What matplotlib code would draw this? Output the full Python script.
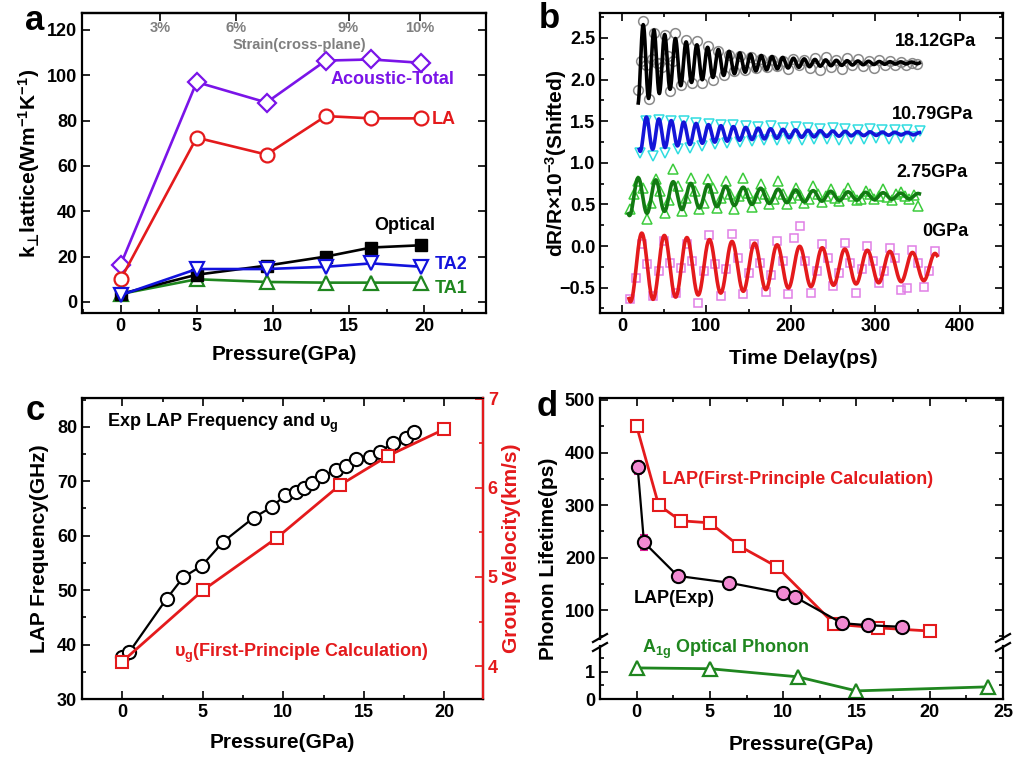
import numpy as np
import matplotlib
matplotlib.use("Agg")
import matplotlib.pyplot as plt
from matplotlib.lines import Line2D
from matplotlib.ticker import MultipleLocator, FixedLocator

# ---------------- panel a ----------------
a_pressure = [0, 5, 9.6, 13.5, 16.5, 19.8]
a_acoustic_total = [16.5, 97, 88, 106.5, 107, 105.5]
a_la = [10, 72.5, 65, 82, 81, 81]
a_optical = [3.5, 12, 16, 20, 24, 25]
a_ta2 = [3, 14.5, 14.5, 15.5, 17, 15.5]
a_ta1 = [3.5, 10, 8.8, 8.5, 8.5, 8.5]
a_strain_pos = [2.6, 7.6, 15.0, 19.7]
a_strain_labels = ["3%", "6%", "9%", "10%"]

# ---------------- panel b ----------------
b_labels = ["0GPa", "2.75GPa", "10.79GPa", "18.12GPa"]
# damped-cosine fit parameters
b_fit_offset = [-0.25, 0.60, 1.35, 2.20]
b_fit_amp = [0.405, 0.22, 0.20, 0.46]
b_fit_tau = [376, 170, 120, 85]
b_fit_period = [26.7, 20.7, 14.7, 12.7]
b_fit_peak_t = [23.5, 19.3, 29.0, 25.2]
b_fit_start = [8.3, 7.5, 20.5, 19.3]
b_fit_end = [373, 352, 352, 352]
# measured points: first delay, delay step, values
b_meas_t0 = [10.0, 8.95, 21.65, 18.85]
b_meas_dt = [6.675, 5.175, 7.35, 6.35]
b_meas_0gpa = [-0.64, -0.38, 0.02, -0.22, -0.60, -0.30, 0.06, -0.20, -0.57, -0.27,
               0.03, -0.18, -0.68, -0.30, 0.13, -0.22, -0.60, -0.28, 0.15, -0.15,
               -0.58, -0.32, 0.02, -0.20, -0.55, -0.35, 0.06, -0.18, -0.58, 0.10,
               0.24, -0.18, -0.56, -0.30, 0.02, -0.15, -0.48, -0.32, 0.04, -0.20,
               -0.57, -0.28, 0.00, -0.18, -0.45, -0.30, -0.02, -0.15, -0.53, -0.50,
               -0.05, -0.20, -0.49, -0.30, -0.06]
b_meas_275gpa = [0.45, 0.62, 0.78, 0.70, 0.32, 0.52, 0.80, 0.66, 0.40, 0.55,
                 0.93, 0.72, 0.42, 0.58, 0.82, 0.66, 0.45, 0.52, 0.80, 0.70,
                 0.46, 0.58, 0.78, 0.62, 0.45, 0.60, 0.82, 0.64, 0.47, 0.58,
                 0.74, 0.62, 0.50, 0.56, 0.78, 0.63, 0.50, 0.58, 0.70, 0.61,
                 0.52, 0.57, 0.72, 0.63, 0.53, 0.60, 0.68, 0.58, 0.54, 0.62,
                 0.70, 0.60, 0.55, 0.57, 0.66, 0.62, 0.56, 0.60, 0.68, 0.59,
                 0.55, 0.62, 0.65, 0.60, 0.57, 0.61, 0.48]
b_meas_1079gpa = [1.12, 1.50, 1.08, 1.52, 1.12, 1.50, 1.16, 1.50, 1.18, 1.48,
                  1.20, 1.47, 1.22, 1.46, 1.24, 1.45, 1.25, 1.44, 1.26, 1.43,
                  1.27, 1.44, 1.27, 1.42, 1.28, 1.43, 1.27, 1.42, 1.28, 1.41,
                  1.29, 1.42, 1.27, 1.41, 1.29, 1.40, 1.28, 1.41, 1.30, 1.39,
                  1.29, 1.40, 1.30, 1.39, 1.31, 1.38]
b_meas_1812gpa = [1.88, 2.70, 1.77, 2.56, 2.20, 2.54, 1.86, 2.56, 1.93, 2.48,
                  1.96, 2.46, 1.96, 2.40, 2.00, 2.34, 2.05, 2.30, 2.10, 2.28,
                  2.12, 2.27, 2.14, 2.25, 2.15, 2.24, 2.16, 2.22, 2.13, 2.25,
                  2.17, 2.23, 2.14, 2.26, 2.12, 2.27, 2.15, 2.24, 2.13, 2.26,
                  2.18, 2.25, 2.16, 2.22, 2.14, 2.23, 2.17, 2.22, 2.18, 2.21,
                  2.17, 2.20, 2.19]
b_extra_1812_t = [22, 28, 35, 41, 47, 54, 60]
b_extra_1812_v = [2.22, 2.18, 2.25, 2.20, 2.15, 2.28, 2.22]
b_text_t = [356, 325, 320, 323]
b_text_v = [0.18, 0.88, 1.575, 2.455]

# ---------------- panel c ----------------
c_exp_pressure = [0.0, 0.43, 2.75, 3.8, 4.95, 6.27, 8.15, 9.3, 10.1, 10.8, 11.3,
                  11.8, 12.4, 13.3, 13.9, 14.5, 15.4, 16.0, 16.8, 17.6, 18.1]
c_exp_freq = [37.8, 38.6, 48.4, 52.4, 54.5, 58.9, 63.3, 65.3, 67.4, 68.0, 68.7,
              69.7, 71.0, 72.1, 72.8, 74.1, 74.5, 75.4, 77.1, 77.9, 79.1]
c_calc_pressure = [0, 5, 9.6, 13.5, 16.5, 20]
c_calc_vg = [4.05, 4.85, 5.44, 6.03, 6.36, 6.66]

# ---------------- panel d ----------------
d_calc_pressure = [0, 1.5, 3.0, 5.0, 7.0, 9.6, 13.5, 16.5, 20]
d_calc_life = [450, 300, 270, 266, 222, 182, 73, 66, 60]
d_exp_pressure = [0.07, 0.5, 2.8, 6.3, 10.0, 10.8, 14.0, 15.8, 18.1]
d_exp_life = [372, 229, 165, 152, 132, 125, 75, 71, 68]
d_exp_err = [12, 14, 6, 6, 5, 5, 4, 4, 4]
d_opt_pressure = [0, 5, 11, 15, 24]
d_opt_life = [1.15, 1.12, 0.82, 0.3, 0.45]

W, H = 1017, 760

PURPLE = "#7a14e8"
RED = "#e41a1c"
BLUE = "#1212dc"
GREEN = "#1f861f"
GRAY = "#7f7f7f"


def box(left, top, right, bottom):
    return [left / W, 1 - bottom / H, (right - left) / W, (bottom - top) / H]


def style(ax, xminor=None, yminor=None, top=True, right=True):
    for s in ax.spines.values():
        s.set_linewidth(1.6)
    ax.tick_params(which="both", direction="in", width=1.2, labelsize=13,
                   top=top, right=right)
    ax.tick_params(which="major", length=5.5)
    ax.tick_params(which="minor", length=3)
    if xminor:
        ax.xaxis.set_minor_locator(MultipleLocator(xminor))
    if yminor:
        ax.yaxis.set_minor_locator(MultipleLocator(yminor))


def panel_a(fig):
    ax = fig.add_axes(box(82, 13, 486, 313))
    kw = dict(lw=1.9, ms=10, mew=1.6, mfc="white")
    ax.plot(a_pressure, a_acoustic_total, "-D", color=PURPLE, ms=9, lw=1.9, mew=1.6, mfc="white")
    ax.plot(a_pressure, a_la, "-o", color=RED, **kw)
    ax.plot(a_pressure, a_ta1, "-^", color=GREEN, **kw)
    ax.plot(a_pressure, a_optical, "-s", color="black", lw=1.9, ms=8)
    ax.plot(a_pressure, a_ta2, "-v", color=BLUE, **kw)
    ax.set_xlim(-2.55, 24.05)
    ax.set_ylim(-4.9, 127.5)
    ax.set_xticks([0, 5, 10, 15, 20])
    ax.set_yticks(range(0, 121, 20))
    style(ax, xminor=2.5, top=False)

    sec = ax.secondary_xaxis("top")
    sec.xaxis.set_major_locator(FixedLocator(a_strain_pos))
    sec.set_xticklabels(a_strain_labels, fontsize=10.5, color=GRAY, fontweight="bold")
    sec.tick_params(direction="in", length=5.5, width=1.2, pad=-16)
    sec.spines["top"].set_linewidth(1.6)
    ax.text(11.76, 113.5, "Strain(cross-plane)", ha="center", va="center",
            fontsize=10.5, color=GRAY, fontweight="bold")

    ax.text(13.8, 98, "Acoustic-Total", color=PURPLE, fontsize=13, va="center")
    ax.text(20.5, 80.5, "LA", color=RED, fontsize=13, va="center")
    ax.text(16.7, 33.5, "Optical", color="black", fontsize=13, va="center")
    ax.text(20.65, 16.3, "TA2", color=BLUE, fontsize=13, va="center")
    ax.text(20.65, 6.0, "TA1", color=GREEN, fontsize=13, va="center")

    ax.set_ylabel("k$_{\\mathsf{\u22a5}}$lattice(Wm$^{-1}$K$^{-1}$)", fontsize=15, va="center")
    ax.yaxis.set_label_coords(-0.131, 0.5)
    ax.set_xlabel("Pressure(GPa)", fontsize=15, va="center")
    ax.xaxis.set_label_coords(0.5, -0.14)


def panel_b(fig):
    ax = fig.add_axes(box(600, 13, 1003, 313))
    meas = [b_meas_0gpa, b_meas_275gpa, b_meas_1079gpa, b_meas_1812gpa]
    mstyle = [
        dict(marker="s", color="#e07ee6", ms=5.5),
        dict(marker="^", color="#3ccc3c", ms=7),
        dict(marker="v", color="#30dde0", ms=7),
        dict(marker="o", color="#8a8a8a", ms=7),
    ]
    fit_color = [RED, "#127a12", "#1414d8", "black"]
    for i in range(4):
        vals = np.array(meas[i])
        t = b_meas_t0[i] + b_meas_dt[i] * np.arange(len(vals))
        if i == 3:
            t = np.concatenate([t, b_extra_1812_t])
            vals = np.concatenate([vals, b_extra_1812_v])
        st = mstyle[i]
        ax.plot(t, vals, ls="none", marker=st["marker"], ms=st["ms"], mfc="none",
                mec=st["color"], mew=1.1)
        tt = np.linspace(b_fit_start[i], b_fit_end[i], 2000)
        dt = tt - b_fit_peak_t[i]
        fit = b_fit_offset[i] + b_fit_amp[i] * np.exp(-dt / b_fit_tau[i]) * np.cos(
            2 * np.pi * dt / b_fit_period[i])
        ax.plot(tt, fit, color=fit_color[i], lw=2.6)
        ax.text(b_text_t[i], b_text_v[i], b_labels[i], fontsize=13, va="center")
    ax.set_xlim(-26, 451)
    ax.set_ylim(-0.805, 2.8)
    ax.set_xticks([0, 100, 200, 300, 400])
    ax.set_yticks([-0.5, 0.0, 0.5, 1.0, 1.5, 2.0, 2.5])
    style(ax, xminor=50, yminor=0.25)
    ax.set_ylabel(r"dR/R×10$^{-3}$(Shifted)", fontsize=15, va="center")
    ax.yaxis.set_label_coords(-0.109, 0.5)
    ax.set_xlabel("Time Delay(ps)", fontsize=15, va="center")
    ax.xaxis.set_label_coords(0.504, -0.15)


def panel_c(fig):
    ax = fig.add_axes(box(82, 398, 483, 699))
    ax.plot(c_exp_pressure, c_exp_freq, "-o", color="black", lw=1.6, ms=9.5,
            mew=1.5, mfc="white", zorder=3)
    ax.set_xlim(-2.5, 22.4)
    ax.set_ylim(30, 85.3)
    ax.set_xticks([0, 5, 10, 15, 20])
    ax.set_yticks(range(30, 81, 10))
    style(ax, xminor=2.5, yminor=5, right=False)
    ax.text(-0.95, 80.7, r"Exp LAP Frequency and υ$_{g}$", fontsize=13, va="center")
    ax.set_ylabel("LAP Frequency(GHz)", fontsize=15, va="center")
    ax.yaxis.set_label_coords(-0.105, 0.5)
    ax.set_xlabel("Pressure(GPa)", fontsize=15, va="center")
    ax.xaxis.set_label_coords(0.5, -0.146)

    ax2 = ax.twinx()
    ax2.plot(c_calc_pressure, c_calc_vg, "-s", color=RED, lw=2, ms=9, mew=1.5,
             mfc="white")
    ax2.set_ylim(3.63, 7.01)
    ax2.set_yticks([4, 5, 6, 7])
    ax2.yaxis.set_minor_locator(MultipleLocator(0.5))
    ax2.spines["right"].set_color(RED)
    ax2.spines["right"].set_linewidth(1.6)
    ax2.tick_params(which="both", direction="in", width=1.2, labelsize=13,
                    colors=RED)
    ax2.tick_params(which="major", length=5.5)
    ax2.tick_params(which="minor", length=3)
    ax2.text(3.2, 4.14, r"υ$_{g}$(First-Principle Calculation)", color=RED,
             fontsize=13, va="center")
    ax2.set_ylabel("Group Velocity(km/s)", fontsize=15, color=RED, va="center",
                   rotation=90)
    ax2.yaxis.set_label_coords(1.07, 0.5)


def panel_d(fig):
    up = fig.add_axes(box(600, 398, 1003, 639))
    lo = fig.add_axes(box(600, 646, 1003, 699))

    up.plot(d_calc_pressure, d_calc_life, "-s", color=RED, lw=2, ms=9, mew=1.5,
            mfc="white", zorder=2)
    up.errorbar(d_exp_pressure, d_exp_life, yerr=d_exp_err, fmt="-o",
                color="black", ecolor="#e0209a", elinewidth=1.5, capsize=3,
                lw=1.6, ms=9.5, mew=1.5, mfc="#f28ad2", mec="black", zorder=3)
    up.set_xlim(-2.5, 25)
    up.set_ylim(44.8, 503.8)
    up.set_yticks([100, 200, 300, 400, 500])
    style(up, xminor=2.5, yminor=50)
    up.spines["bottom"].set_visible(False)
    up.tick_params(which="both", bottom=False, labelbottom=False)
    up.text(1.7, 348, "LAP(First-Principle Calculation)", color=RED, fontsize=13,
            va="center")
    up.text(-0.2, 121, "LAP(Exp)", color="black", fontsize=13, va="center")

    lo.plot(d_opt_pressure, d_opt_life, "-^", color=GREEN, lw=2, ms=10, mew=1.6,
            mfc="white", clip_on=False)
    lo.set_xlim(-2.5, 25)
    lo.set_ylim(0, 1.96)
    lo.set_xticks([0, 5, 10, 15, 20, 25])
    lo.set_yticks([0, 1])
    style(lo, xminor=2.5, yminor=0.5)
    lo.spines["top"].set_visible(False)
    lo.tick_params(which="both", top=False)
    lo.text(0.4, 1.85, r"A$_{1g}$ Optical Phonon", color=GREEN, fontsize=13,
            va="center", clip_on=False)
    lo.set_xlabel("Pressure(GPa)", fontsize=15, va="center")
    lo.xaxis.set_label_coords(0.5, -(745 - 699) / 53)

    fig.text(549 / W, 1 - 559 / H, "Phonon Lifetime(ps)", fontsize=15,
             rotation=90, ha="center", va="center")

    # axis-break marks
    for xc in (600, 1003):
        for yc in (638, 647):
            line = Line2D([(xc - 7) / W, (xc + 7) / W],
                          [1 - (yc + 4) / H, 1 - (yc - 4) / H],
                          transform=fig.transFigure, color="black", lw=1.6)
            fig.add_artist(line)


def main():
    plt.rcParams["font.family"] = ["Liberation Sans", "DejaVu Sans"]
    plt.rcParams["font.weight"] = "bold"
    plt.rcParams["axes.labelweight"] = "bold"
    plt.rcParams["mathtext.fontset"] = "custom"
    plt.rcParams["mathtext.rm"] = "Liberation Sans:bold"
    plt.rcParams["mathtext.it"] = "Liberation Sans:bold"
    plt.rcParams["mathtext.bf"] = "Liberation Sans:bold"
    plt.rcParams["mathtext.sf"] = "DejaVu Sans:bold"

    fig = plt.figure(figsize=(W / 100, H / 100), dpi=100)
    panel_a(fig)
    panel_b(fig)
    panel_c(fig)
    panel_d(fig)

    for letter, x, y in [("a", 35, 30), ("b", 549, 28), ("c", 35, 420), ("d", 547, 416)]:
        fig.text(x / W, 1 - y / H, letter, fontsize=25, fontweight="bold",
                 ha="center", va="baseline")

    fig.savefig("out.png", dpi=100)
    plt.close(fig)


if __name__ == "__main__":
    main()
